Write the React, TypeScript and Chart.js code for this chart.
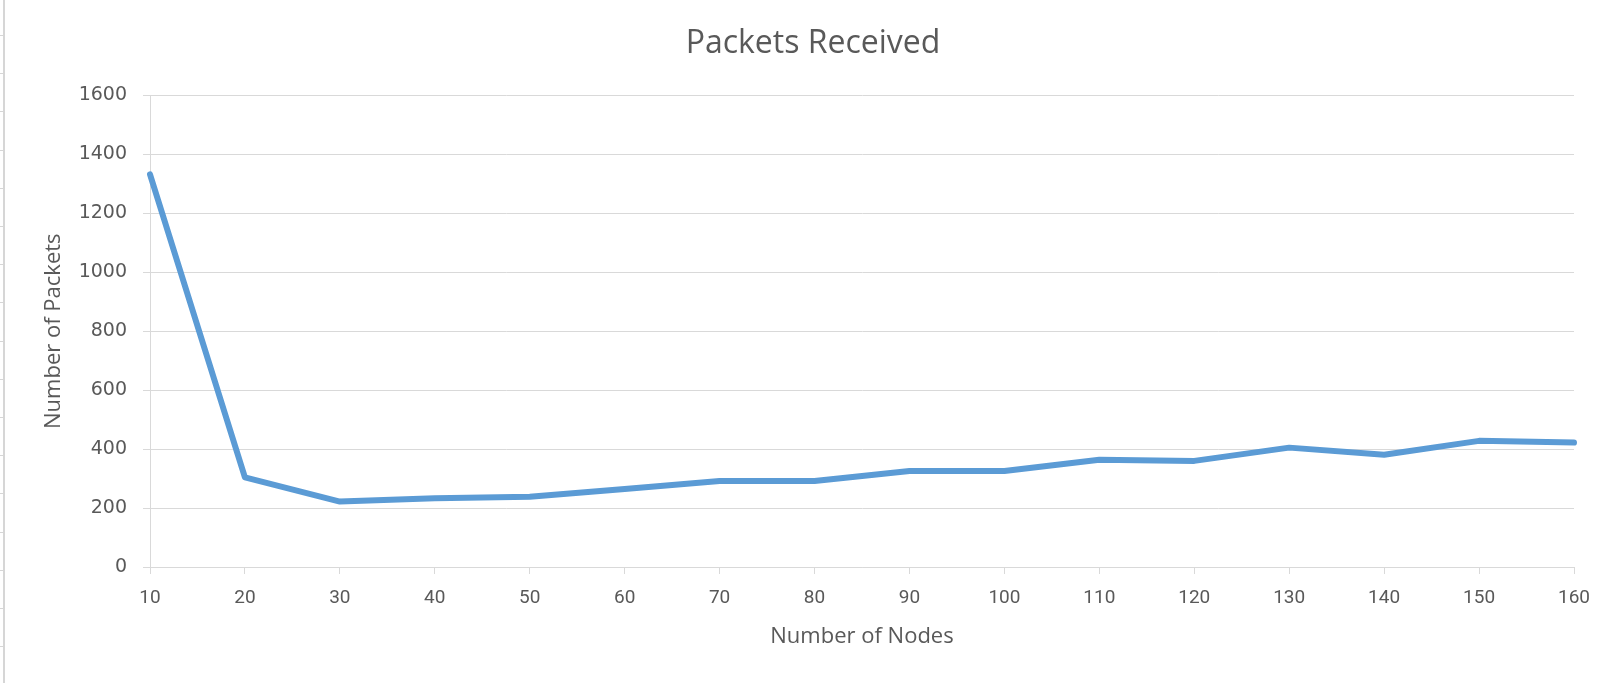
import React, { useEffect, useRef } from "react";
import { Chart, registerables } from "chart.js";

Chart.register(...registerables);

const chartTitle = "Packets Received";
const xAxisTitle = "Number of Nodes";
const yAxisTitle = "Number of Packets";
const nodeCounts = ["10", "20", "30", "40", "50", "60", "70", "80", "90", "100", "110", "120", "130", "140", "150", "160"];
const packetsReceived = [1332, 304, 222, 233, 238, 265, 292, 292, 326, 326, 364, 360, 405, 381, 428, 422];
const yMin = 0;
const yMax = 1600;
const yStep = 200;

const TEXT = "#595959";
const GRID = "#D9D9D9";
const LINE = "#5B9BD5";

// decorative spreadsheet row borders at the left edge of the screenshot
const sheetRows = Array.from({ length: 18 }, (_, i) => i);

export default function App() {
  const ref = useRef<HTMLCanvasElement | null>(null);

  useEffect(() => {
    if (!ref.current) return;
    const chart = new Chart(ref.current, {
      type: "line",
      data: {
        labels: nodeCounts,
        datasets: [
          {
            label: yAxisTitle,
            data: packetsReceived,
            borderColor: LINE,
            backgroundColor: LINE,
            borderWidth: 6,
            pointRadius: 0,
            pointHoverRadius: 0,
            tension: 0,
            borderJoinStyle: "round",
            borderCapStyle: "round",
            fill: false,
            yAxisID: "y",
          },
        ],
      },
      options: {
        animation: false,
        responsive: false,
        devicePixelRatio: 1,
        layout: { padding: { left: 8, right: 0, top: 0, bottom: 0 } },
        plugins: {
          legend: { display: false },
          tooltip: { enabled: false },
          title: {
            display: true,
            text: chartTitle,
            color: TEXT,
            font: { family: "'Open Sans', sans-serif", size: 32, weight: "normal" },
            padding: { top: 25, bottom: 32 },
          },
        },
        scales: {
          x: {
            type: "category",
            offset: false,
            grid: {
              display: true,
              drawOnChartArea: false,
              drawTicks: true,
              tickLength: 7,
              color: GRID,
            },
            border: { color: GRID, width: 1 },
            ticks: {
              color: TEXT,
              font: { family: "Roboto, sans-serif", size: 19 },
              padding: 13,
              maxRotation: 0,
              autoSkip: false,
            },
            title: {
              display: true,
              text: xAxisTitle,
              color: TEXT,
              font: { family: "'Open Sans', sans-serif", size: 22 },
              padding: { top: 4, bottom: 33 },
            },
            afterFit: (s: any) => {
              s.height = 116;
            },
          },
          y: {
            position: "left",
            min: yMin,
            max: yMax,
            grid: { color: GRID, tickLength: 7, lineWidth: 1 },
            border: { color: GRID, width: 1 },
            ticks: {
              stepSize: yStep,
              color: TEXT,
              font: { family: "'DejaVu Sans', sans-serif", size: 19 },
              padding: 16,
              callback: (v: any) => String(v),
            },
            title: {
              display: true,
              text: yAxisTitle,
              color: TEXT,
              font: { family: "'Open Sans', sans-serif", size: 22 },
              padding: { top: 33, bottom: 0 },
            },
            afterFit: (s: any) => {
              s.width = 142;
            },
          },
          yRight: {
            position: "right",
            display: true,
            min: yMin,
            max: yMax,
            grid: { display: false, drawTicks: false },
            border: { display: false },
            ticks: { display: false },
            title: { display: false },
            afterFit: (s: any) => {
              s.width = 44;
            },
          },
        },
      },
    });
    return () => chart.destroy();
  }, []);

  return (
    <div style={{ position: "absolute", left: 0, top: 0, width: 1618, height: 683, background: "#fff", overflow: "hidden" }}>
      <div style={{ position: "absolute", left: 3, top: 0, width: 0, height: 683, borderLeft: "2px solid #D6D6D6" }} />
      {sheetRows.map((i) => (
        <div
          key={i}
          style={{ position: "absolute", left: 0, top: Math.round(35 + i * 38.2), width: 3, height: 0, borderTop: "1px solid #D6D6D6" }}
        />
      ))}
      <canvas ref={ref} width={1618} height={683} style={{ position: "absolute", left: 0, top: 0 }} />
    </div>
  );
}
